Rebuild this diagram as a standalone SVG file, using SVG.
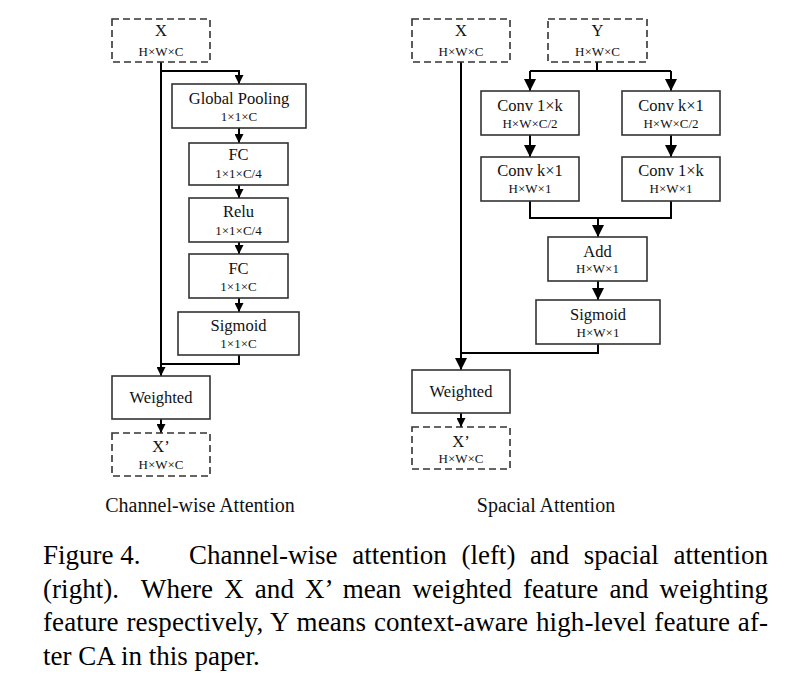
<svg xmlns="http://www.w3.org/2000/svg" width="806" height="680" viewBox="0 0 806 680">
<style>
  .box { fill: #ffffff; stroke: #333333; stroke-width: 1.6; }
  .dash { fill: #ffffff; stroke: #333333; stroke-width: 1.6; stroke-dasharray: 7 4; }
  .t { font-family: "Liberation Serif", "Times New Roman", serif; font-size: 16.5px; fill: #111111; text-anchor: middle; }
  .d { font-family: "Liberation Serif", "Times New Roman", serif; font-size: 13px; fill: #111111; text-anchor: middle; }
  .sub { font-family: "Liberation Serif", "Times New Roman", serif; font-size: 20px; fill: #111111; text-anchor: middle; }
  .cap { font-family: "Liberation Serif", "Times New Roman", serif; font-size: 27px; fill: #000000; }
  .ln { fill: none; stroke: #000000; stroke-width: 2; }
  .sa { marker-end: url(#arrS); }
  .la { marker-end: url(#arrL); }
</style>
<defs>
  <marker id="arrS" markerUnits="userSpaceOnUse" markerWidth="9" markerHeight="9" viewBox="0 0 9 9" refX="9" refY="4.5" orient="auto">
    <path d="M0,0 L9,4.5 L0,9 z" fill="#000000"/>
  </marker>
  <marker id="arrL" markerUnits="userSpaceOnUse" markerWidth="12" markerHeight="12" viewBox="0 0 12 12" refX="12" refY="6" orient="auto">
    <path d="M0,0 L12,6 L0,12 z" fill="#000000"/>
  </marker>
</defs>

<g id="connectors">
  <!-- left: channel-wise -->
  <path class="ln sa" d="M161,62 V376"/>
  <path class="ln sa" d="M161,71 H239 V84"/>
  <path class="ln sa" d="M239,128 V143"/>
  <path class="ln sa" d="M239,185 V198"/>
  <path class="ln sa" d="M239,242 V254"/>
  <path class="ln sa" d="M239,298 V312"/>
  <path class="ln" d="M239,355 V364 H161"/>
  <path class="ln sa" d="M161,419 V433"/>
  <!-- right: spacial -->
  <path class="ln la" d="M461,62 V370"/>
  <path class="ln" d="M597,62 V71"/>
  <path class="ln" d="M530,71 H671"/>
  <path class="ln la" d="M530,71 V91"/>
  <path class="ln la" d="M671,71 V91"/>
  <path class="ln la" d="M530,135 V157"/>
  <path class="ln la" d="M671,135 V157"/>
  <path class="ln" d="M530,201 V218 H671 V201"/>
  <path class="ln la" d="M598,218 V237"/>
  <path class="ln la" d="M598,281 V300"/>
  <path class="ln" d="M598,344 V353 H461"/>
  <path class="ln sa" d="M461,413 V427"/>
</g>

<!-- Left diagram nodes -->
<g id="cw-x">
  <rect class="dash" x="112" y="19" width="98" height="43"/>
  <text class="t" x="161" y="36">X</text>
  <text class="d" x="161" y="56">H×W×C</text>
</g>
<g id="cw-pool">
  <rect class="box" x="172" y="84" width="134" height="44"/>
  <text class="t" x="239" y="104">Global Pooling</text>
  <text class="d" x="239" y="121">1×1×C</text>
</g>
<g id="cw-fc1">
  <rect class="box" x="189" y="143" width="99" height="42"/>
  <text class="t" x="238.5" y="160">FC</text>
  <text class="d" x="238.5" y="178">1×1×C/4</text>
</g>
<g id="cw-relu">
  <rect class="box" x="189" y="198" width="99" height="44"/>
  <text class="t" x="238.5" y="217">Relu</text>
  <text class="d" x="238.5" y="235">1×1×C/4</text>
</g>
<g id="cw-fc2">
  <rect class="box" x="189" y="254" width="99" height="44"/>
  <text class="t" x="238.5" y="274">FC</text>
  <text class="d" x="238.5" y="291">1×1×C</text>
</g>
<g id="cw-sigmoid">
  <rect class="box" x="178" y="312" width="121" height="43"/>
  <text class="t" x="238.5" y="331">Sigmoid</text>
  <text class="d" x="238.5" y="348">1×1×C</text>
</g>
<g id="cw-weighted">
  <rect class="box" x="112" y="376" width="98" height="43"/>
  <text class="t" x="161" y="403">Weighted</text>
</g>
<g id="cw-xout">
  <rect class="dash" x="112" y="433" width="98" height="43"/>
  <text class="t" x="161" y="452">X’</text>
  <text class="d" x="161" y="469">H×W×C</text>
</g>

<!-- Right diagram nodes -->
<g id="sa-x">
  <rect class="dash" x="412" y="19" width="98" height="43"/>
  <text class="t" x="461" y="36">X</text>
  <text class="d" x="461" y="56">H×W×C</text>
</g>
<g id="sa-y">
  <rect class="dash" x="548" y="19" width="99" height="43"/>
  <text class="t" x="597.5" y="36">Y</text>
  <text class="d" x="597.5" y="56">H×W×C</text>
</g>
<g id="sa-conv1k-a">
  <rect class="box" x="481" y="91" width="98" height="44"/>
  <text class="t" x="530" y="111">Conv 1×k</text>
  <text class="d" x="530" y="128">H×W×C/2</text>
</g>
<g id="sa-convk1-a">
  <rect class="box" x="622" y="91" width="98" height="44"/>
  <text class="t" x="671" y="111">Conv k×1</text>
  <text class="d" x="671" y="128">H×W×C/2</text>
</g>
<g id="sa-convk1-b">
  <rect class="box" x="481" y="157" width="98" height="44"/>
  <text class="t" x="530" y="176">Conv k×1</text>
  <text class="d" x="530" y="193">H×W×1</text>
</g>
<g id="sa-conv1k-b">
  <rect class="box" x="622" y="157" width="98" height="44"/>
  <text class="t" x="671" y="176">Conv 1×k</text>
  <text class="d" x="671" y="193">H×W×1</text>
</g>
<g id="sa-add">
  <rect class="box" x="548" y="237" width="99" height="44"/>
  <text class="t" x="597.5" y="257">Add</text>
  <text class="d" x="597.5" y="273">H×W×1</text>
</g>
<g id="sa-sigmoid">
  <rect class="box" x="536" y="300" width="124" height="44"/>
  <text class="t" x="598" y="320">Sigmoid</text>
  <text class="d" x="598" y="337">H×W×1</text>
</g>
<g id="sa-weighted">
  <rect class="box" x="412" y="370" width="98" height="43"/>
  <text class="t" x="461" y="397">Weighted</text>
</g>
<g id="sa-xout">
  <rect class="dash" x="412" y="427" width="98" height="42"/>
  <text class="t" x="461" y="447">X’</text>
  <text class="d" x="461" y="463">H×W×C</text>
</g>

<!-- Sub captions -->
<text class="sub" x="200" y="512">Channel-wise Attention</text>
<text class="sub" x="546" y="512">Spacial Attention</text>

<!-- Figure caption -->
<text class="cap" x="43" y="564">Figure 4.</text>
<text class="cap" x="189" y="564" word-spacing="8" textLength="579" lengthAdjust="spacing">Channel-wise attention (left) and spacial attention</text>
<text class="cap" x="43" y="598" xml:space="preserve" word-spacing="4.3" textLength="725" lengthAdjust="spacing">(right).  Where X and X’ mean weighted feature and weighting</text>
<text class="cap" x="43" y="631" word-spacing="1" textLength="725" lengthAdjust="spacing">feature respectively, Y means context-aware high-level feature af-</text>
<text class="cap" x="43" y="665">ter CA in this paper.</text>
</svg>
